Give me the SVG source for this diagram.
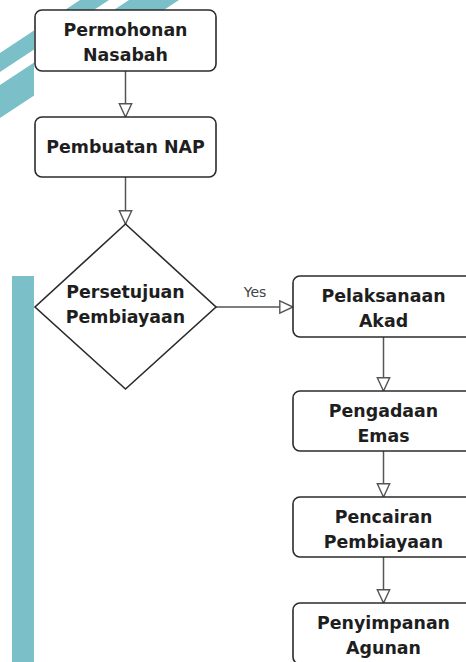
<svg xmlns="http://www.w3.org/2000/svg" width="466" height="662" viewBox="0 0 466 662">
<style>
.node rect, .node polygon { fill: #ffffff; stroke: #2b2b2b; stroke-width: 1.6; }
.lbl { font-family: "DejaVu Sans", "Liberation Sans", sans-serif; font-weight: bold; font-size: 17.4px; fill: #1e1e1e; text-anchor: middle; }
.edge { fill: none; stroke: #555555; stroke-width: 1.5; marker-end: url(#arr); }
.elbl { font-family: "DejaVu Sans", "Liberation Sans", sans-serif; font-size: 14px; fill: #444444; text-anchor: middle; }
.deco { fill: #7bbfc8; }
</style>
<defs>
<marker id="arr" markerUnits="userSpaceOnUse" markerWidth="16" markerHeight="16" refX="14" refY="7" orient="auto">
<path d="M0.8,0.8 L14,7 L0.8,13.2 Z" fill="#ffffff" stroke="#555555" stroke-width="1.4"/>
</marker>
<clipPath id="decoClip">
<path d="M0,0 H466 V10 H34 V662 H0 Z"/>
</clipPath>
</defs>
<rect width="466" height="662" fill="#ffffff"/>
<g id="decoration" clip-path="url(#decoClip)">
<polygon class="deco" points="80,0 109,0 0,72 0,53"/>
<polygon class="deco" points="129,0 179,0 0,118 0,85"/>
</g>
<rect class="deco" x="12" y="276" width="22" height="386"/>
<g id="connectors">
<line class="edge" x1="125.5" y1="71" x2="125.5" y2="117"/>
<line class="edge" x1="125.5" y1="177" x2="125.5" y2="224"/>
<line class="edge" x1="216" y1="307" x2="293" y2="307"/>
<text class="elbl" x="255" y="297">Yes</text>
<line class="edge" x1="383.5" y1="337" x2="383.5" y2="391"/>
<line class="edge" x1="383.5" y1="451" x2="383.5" y2="497"/>
<line class="edge" x1="383.5" y1="557" x2="383.5" y2="603"/>
</g>
<g id="permohonan" class="node">
<rect x="35" y="10" width="181" height="61" rx="7"/>
<text class="lbl" x="125.5" y="36">Permohonan</text>
<text class="lbl" x="125.5" y="61">Nasabah</text>
</g>
<g id="pembuatan" class="node">
<rect x="35" y="117" width="181" height="60" rx="7"/>
<text class="lbl" x="125.5" y="153">Pembuatan NAP</text>
</g>
<g id="persetujuan" class="node">
<polygon points="125.5,224 216,307 125.5,389 35,307"/>
<text class="lbl" x="125.5" y="298">Persetujuan</text>
<text class="lbl" x="125.5" y="323">Pembiayaan</text>
</g>
<g id="pelaksanaan" class="node">
<rect x="293" y="276" width="181" height="61" rx="7"/>
<text class="lbl" x="383.5" y="302">Pelaksanaan</text>
<text class="lbl" x="383.5" y="327">Akad</text>
</g>
<g id="pengadaan" class="node">
<rect x="293" y="391" width="181" height="60" rx="7"/>
<text class="lbl" x="383.5" y="417">Pengadaan</text>
<text class="lbl" x="383.5" y="442">Emas</text>
</g>
<g id="pencairan" class="node">
<rect x="293" y="497" width="181" height="60" rx="7"/>
<text class="lbl" x="383.5" y="523">Pencairan</text>
<text class="lbl" x="383.5" y="548">Pembiayaan</text>
</g>
<g id="penyimpanan" class="node">
<rect x="293" y="603" width="181" height="61" rx="7"/>
<text class="lbl" x="383.5" y="629">Penyimpanan</text>
<text class="lbl" x="383.5" y="654">Agunan</text>
</g>
</svg>
